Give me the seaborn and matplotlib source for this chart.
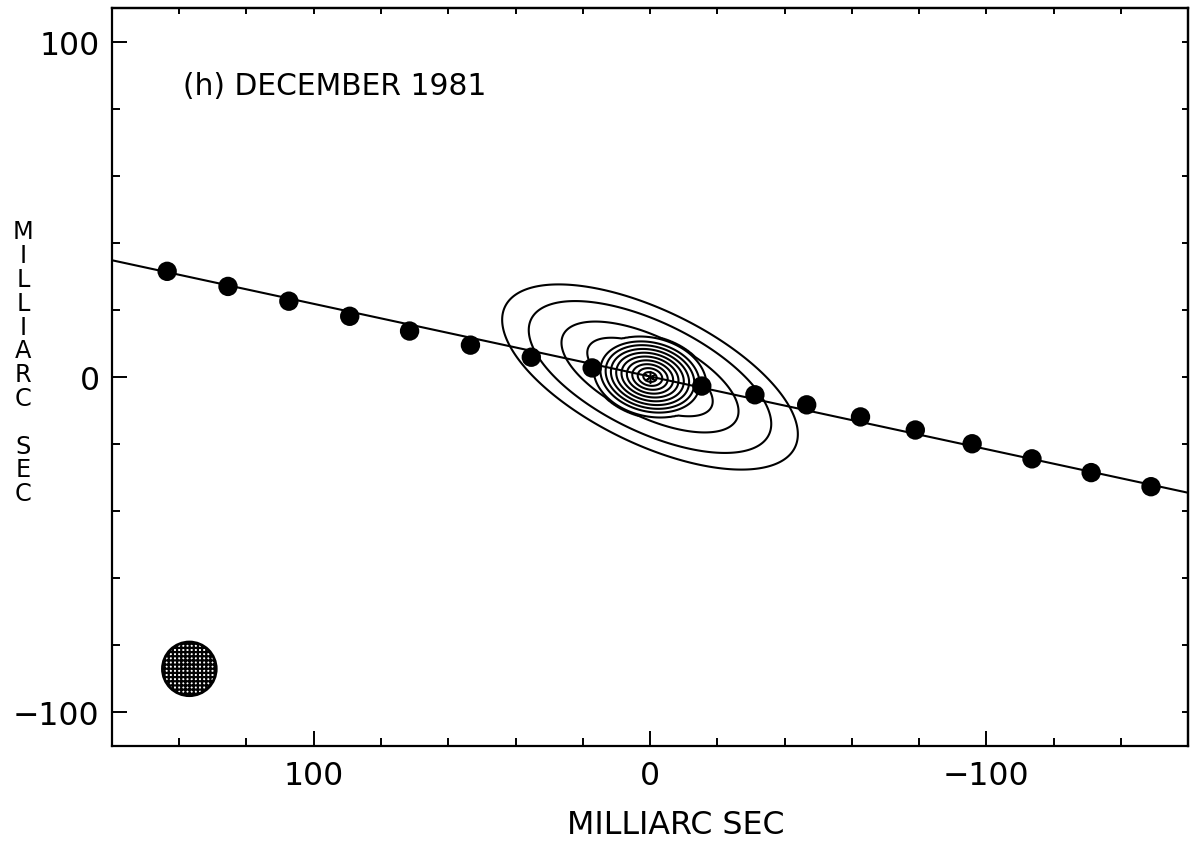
import numpy as np
import pandas as pd
import matplotlib
matplotlib.use("Agg")
import matplotlib.pyplot as plt
from matplotlib.patches import Ellipse
from matplotlib.ticker import MultipleLocator, NullFormatter
import seaborn as sns

# Predicted positions along the track (milliarcsec), one per epoch
track_x = [143.6, 125.5, 107.4, 89.3, 71.5, 53.4, 35.3, 17.2,
           -15.4, -31.2, -46.6, -62.6, -78.9, -95.8, -113.6, -131.2, -149.0]
track_y = [31.5, 27.0, 22.6, 18.1, 13.7, 9.5, 5.9, 2.7,
           -2.7, -5.3, -8.3, -11.9, -15.8, -19.9, -24.4, -28.5, -32.7]

# Track line end points
line_x = [160.0, -160.0]
line_y = [34.8, -34.5]

# Brightness model of the source: compact core plus an elongated halo
core_radii = [17.0, 12.0]      # mas (major, minor), cone profile
core_angle = 12.0              # deg
halo_peak = 0.12
halo_axes = [27.7, 11.5]       # mas, Gaussian scale along / across
halo_angle = 26.0              # deg

# Contour levels (fraction of core peak)
levels = [0.006, 0.016, 0.041, 0.07, 0.2, 0.3, 0.4, 0.5, 0.6, 0.7, 0.8, 0.9, 1.0]

# Restoring beam
beam_x, beam_y, beam_d = 137.0, -87.0, 16.0

title = "(h) DECEMBER 1981"
axis_name = "MILLIARC SEC"

sns.set_theme(style="ticks")
plt.rcParams["font.family"] = ["DejaVu Sans"]
plt.rcParams.update({
    "text.color": "black",
    "axes.labelcolor": "black",
    "axes.edgecolor": "black",
    "xtick.color": "black",
    "ytick.color": "black",
    "axes.linewidth": 1.6,
    "hatch.linewidth": 1.6,
    "hatch.color": "black",
})

fig = plt.figure(figsize=(11.99, 8.45), dpi=100)
ax = fig.add_axes([112 / 1199, 1 - 747 / 845, 1076 / 1199, 738 / 845])


def rotated(x, y, ang):
    t = np.deg2rad(ang)
    u = x * np.cos(t) + y * np.sin(t)
    v = -x * np.sin(t) + y * np.cos(t)
    return u, v


gx = np.linspace(-70, 70, 701)
gy = np.linspace(-45, 45, 451)
X, Y = np.meshgrid(gx, gy)
uc, vc = rotated(X, Y, core_angle)
rho = np.sqrt((uc / core_radii[0]) ** 2 + (vc / core_radii[1]) ** 2)
core = np.clip(1.0 - rho, 0.0, None)
uh, vh = rotated(X, Y, halo_angle)
halo = halo_peak * np.exp(-(uh / halo_axes[0]) ** 2 - (vh / halo_axes[1]) ** 2)
brightness = core + halo

ax.contour(X, Y, brightness, levels=levels, colors="black", linewidths=1.5)

track = pd.DataFrame({"x": track_x, "y": track_y})
line = pd.DataFrame({"x": line_x, "y": line_y})
sns.lineplot(data=line, x="x", y="y", color="black", linewidth=1.5, ax=ax,
             sort=False, zorder=3)
sns.scatterplot(data=track, x="x", y="y", color="black", s=195,
                edgecolor="none", ax=ax, zorder=4)
ax.plot([0], [0], marker=(6, 2, 0), color="black", markersize=9,
        markeredgewidth=1.1, zorder=5)

beam = Ellipse((beam_x, beam_y), beam_d, beam_d, facecolor="white",
               edgecolor="black", linewidth=2.0, hatch="++++", zorder=3)
ax.add_patch(beam)

ax.text(139, 87, title, fontsize=21.4, ha="left", va="center")

ax.set_xlim(160, -160)
ax.set_ylim(-110, 110)

for axis in (ax.xaxis, ax.yaxis):
    axis.set_major_locator(MultipleLocator(100))
    axis.set_minor_locator(MultipleLocator(20))
ax.tick_params(which="both", direction="in", top=False, right=False,
               labelsize=22.7, width=1.4, color="black")
ax.tick_params(which="major", length=10.5)
ax.tick_params(which="minor", length=5.5)
ax.tick_params(axis="x", which="major", pad=10)
ax.tick_params(axis="y", which="major", pad=9)

top = ax.secondary_xaxis("top")
top.xaxis.set_major_locator(MultipleLocator(20))
top.xaxis.set_major_formatter(NullFormatter())
top.tick_params(direction="in", length=4, width=1.4)
right = ax.secondary_yaxis("right")
right.yaxis.set_major_locator(MultipleLocator(20))
right.yaxis.set_major_formatter(NullFormatter())
right.tick_params(direction="in", length=4, width=1.4)

ax.set_xlabel(axis_name, fontsize=22.8, va="center")
ax.xaxis.set_label_coords(0.524, -0.106)
ax.set_ylabel("\n".join(list("MILLIARC") + [""] + list("SEC")), rotation=0,
              fontsize=17.3, linespacing=0.99, ha="center", va="center",
              multialignment="center")
ax.yaxis.set_label_coords(-0.0827, 0.520)

fig.savefig("out.png", dpi=100, facecolor="white")
